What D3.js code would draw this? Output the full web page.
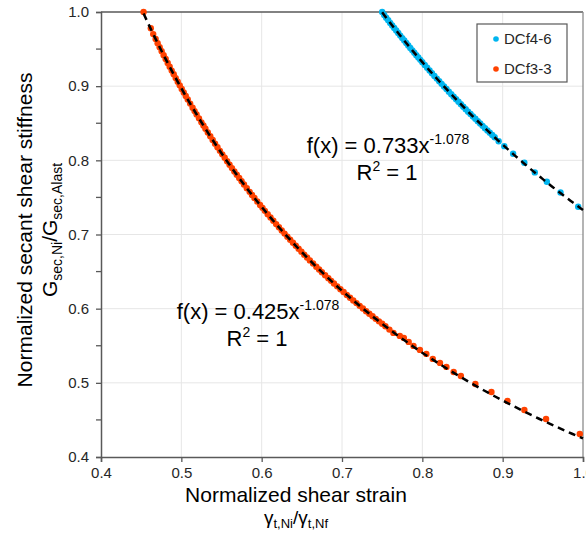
<!DOCTYPE html>
<html>
<head>
<meta charset="utf-8">
<script src="https://cdn.jsdelivr.net/npm/d3@7"></script>
<style>
  html, body { margin: 0; padding: 0; background: #fff; }
  svg { display: block; font-family: "Liberation Sans", Arial, sans-serif; }
</style>
</head>
<body>
<svg id="chart" width="586" height="535"></svg>
<script>
// ---------- data ----------
const xTicks = [0.4, 0.5, 0.6, 0.7, 0.8, 0.9, 1.0];
const yTicks = [0.4, 0.5, 0.6, 0.7, 0.8, 0.9, 1.0];
const yMinorTicks = [0.45, 0.55, 0.65, 0.75, 0.85, 0.95];

const seriesNames = ["DCf4-6", "DCf3-3"];

// DCf3-3 (red-orange)
const redX = [0.453, 0.462, 0.465, 0.468, 0.4705, 0.473, 0.4755, 0.478, 0.4805, 0.483, 0.4855, 0.488, 0.4905, 0.493, 0.4955, 0.498, 0.5005, 0.503, 0.5055, 0.508, 0.511, 0.514, 0.5165, 0.519, 0.522, 0.525, 0.5275, 0.530, 0.533, 0.536, 0.539, 0.542, 0.545, 0.548, 0.551, 0.554, 0.557, 0.560, 0.563, 0.566, 0.569, 0.572, 0.575, 0.578, 0.5815, 0.585, 0.588, 0.591, 0.5945, 0.598, 0.601, 0.604, 0.6075, 0.611, 0.6145, 0.618, 0.6215, 0.625, 0.6285, 0.632, 0.6355, 0.639, 0.6425, 0.646, 0.6495, 0.653, 0.6565, 0.660, 0.664, 0.668, 0.6715, 0.675, 0.679, 0.683, 0.6865, 0.690, 0.694, 0.698, 0.702, 0.706, 0.710, 0.714, 0.718, 0.722, 0.726, 0.730, 0.734, 0.738, 0.742, 0.746, 0.750, 0.754, 0.759, 0.764, 0.772, 0.777, 0.783, 0.789, 0.797, 0.805, 0.813, 0.822, 0.830, 0.839, 0.848, 0.866, 0.886, 0.906, 0.927, 0.954, 0.996];
const redY = [1.000, 0.978, 0.9702, 0.9635, 0.9580, 0.9526, 0.9472, 0.9418, 0.9366, 0.9313, 0.9262, 0.9210, 0.9160, 0.9109, 0.9060, 0.9011, 0.8963, 0.8915, 0.8868, 0.8820, 0.8765, 0.8709, 0.8664, 0.8619, 0.8566, 0.8512, 0.8469, 0.8426, 0.8375, 0.8324, 0.8275, 0.8225, 0.8177, 0.8128, 0.8081, 0.8034, 0.7987, 0.7940, 0.7895, 0.7850, 0.7806, 0.7761, 0.7718, 0.7675, 0.7625, 0.7575, 0.7534, 0.7492, 0.7445, 0.7398, 0.7359, 0.7319, 0.7274, 0.7229, 0.7185, 0.7140, 0.7097, 0.7054, 0.7012, 0.6970, 0.6929, 0.6888, 0.6848, 0.6807, 0.6768, 0.6728, 0.6690, 0.6651, 0.6609, 0.6566, 0.6529, 0.6492, 0.6451, 0.6410, 0.6375, 0.6340, 0.6301, 0.6262, 0.6224, 0.6185, 0.6148, 0.6111, 0.6075, 0.6038, 0.6002, 0.5966, 0.5932, 0.5897, 0.5863, 0.5829, 0.5796, 0.5762, 0.5718, 0.5673, 0.5633, 0.5606, 0.5552, 0.5498, 0.5444, 0.5390, 0.5323, 0.5269, 0.5215, 0.5147, 0.5093, 0.4985, 0.4877, 0.4756, 0.4634, 0.4513, 0.4310];

// DCf4-6 (cyan)
const cyanX = [0.750, 0.7525, 0.755, 0.7575, 0.760, 0.7625, 0.765, 0.7675, 0.770, 0.7725, 0.775, 0.7775, 0.780, 0.7825, 0.785, 0.7875, 0.790, 0.7925, 0.795, 0.7975, 0.800, 0.803, 0.806, 0.809, 0.812, 0.815, 0.818, 0.821, 0.824, 0.827, 0.830, 0.833, 0.836, 0.839, 0.842, 0.845, 0.848, 0.851, 0.854, 0.857, 0.860, 0.863, 0.866, 0.869, 0.872, 0.875, 0.878, 0.881, 0.884, 0.887, 0.890, 0.895, 0.902, 0.913, 0.927, 0.940, 0.955, 0.972, 0.994];
const cyanY = [1.000, 0.9959, 0.9923, 0.9888, 0.9853, 0.9818, 0.9784, 0.9750, 0.9716, 0.9682, 0.9648, 0.9615, 0.9582, 0.9549, 0.9516, 0.9483, 0.9450, 0.9418, 0.9387, 0.9355, 0.9323, 0.9286, 0.9249, 0.9212, 0.9175, 0.9138, 0.9102, 0.9066, 0.9031, 0.8996, 0.8961, 0.8926, 0.8891, 0.8857, 0.8823, 0.8789, 0.8756, 0.8722, 0.8689, 0.8656, 0.8624, 0.8592, 0.8560, 0.8528, 0.8497, 0.8465, 0.8434, 0.8403, 0.8372, 0.8341, 0.8311, 0.8258, 0.8191, 0.8089, 0.7968, 0.7837, 0.7711, 0.7567, 0.7374];

// power-law fits f(x) = a * x^b
const fitRedA = 0.425, fitCyanA = 0.733, fitB = -1.078;
const fitRedRange = [0.453, 1.0];
const fitCyanRange = [0.75, 1.0];

// ---------- layout ----------
const svg = d3.select("#chart");
const L = 101, R = 583, T = 12, B = 457;
const x = d3.scaleLinear().domain([0.4, 1.0]).range([L, R]);
const y = d3.scaleLinear().domain([0.4, 1.0]).range([B, T]);

const cRed = "#ff4200", cCyan = "#00b5ef";

// gridlines
svg.append("g").selectAll("line").data(xTicks.slice(1, -1)).join("line")
  .attr("x1", d => x(d)).attr("x2", d => x(d)).attr("y1", T).attr("y2", B)
  .attr("stroke", "#e6e6e6").attr("stroke-width", 1);
svg.append("g").selectAll("line").data(yTicks.slice(1, -1)).join("line")
  .attr("y1", d => y(d)).attr("y2", d => y(d)).attr("x1", L).attr("x2", R)
  .attr("stroke", "#e6e6e6").attr("stroke-width", 1);

// frame top/right
svg.append("line").attr("x1", L).attr("x2", R).attr("y1", T).attr("y2", T).attr("stroke", "#595959").attr("stroke-width", 1.3);
svg.append("line").attr("x1", R).attr("x2", R).attr("y1", T).attr("y2", B).attr("stroke", "#8c8c8c").attr("stroke-width", 1.3);

// axes
const xAxis = d3.axisBottom(x).tickValues(xTicks).tickFormat(d3.format(".1f")).tickSize(5).tickPadding(5);
const gx = svg.append("g").attr("transform", `translate(0,${B})`).call(xAxis);
gx.select(".domain").attr("stroke", "#595959").attr("stroke-width", 1.5);
gx.selectAll(".tick line").attr("stroke", "#595959").attr("stroke-width", 1.3);
gx.selectAll(".tick text").attr("font-size", 15).attr("fill", "#262626").attr("font-family", "Liberation Sans, Arial, sans-serif");

const yAxis = d3.axisLeft(y).tickValues(yTicks).tickFormat(d3.format(".1f")).tickSize(5).tickPadding(7);
const gy = svg.append("g").attr("transform", `translate(${L},0)`).call(yAxis);
gy.select(".domain").attr("stroke", "#595959").attr("stroke-width", 1.5);
gy.selectAll(".tick line").attr("stroke", "#595959").attr("stroke-width", 1.3);
gy.selectAll(".tick text").attr("font-size", 15).attr("fill", "#262626").attr("font-family", "Liberation Sans, Arial, sans-serif");

// minor y ticks
svg.append("g").selectAll("line").data(yMinorTicks).join("line")
  .attr("x1", L - 5).attr("x2", L).attr("y1", d => y(d)).attr("y2", d => y(d))
  .attr("stroke", "#595959").attr("stroke-width", 1.3);

// clip
svg.append("clipPath").attr("id", "plotclip").append("rect")
  .attr("x", L).attr("y", T - 4).attr("width", R - L + 4).attr("height", B - T + 4);

const plot = svg.append("g").attr("clip-path", "url(#plotclip)");

// points
const redPts = d3.zip(redX, redY);
const cyanPts = d3.zip(cyanX, cyanY);
plot.append("g").selectAll("circle").data(redPts).join("circle")
  .attr("cx", d => x(d[0])).attr("cy", d => y(d[1])).attr("r", 3.2).attr("fill", cRed);
plot.append("g").selectAll("circle").data(cyanPts).join("circle")
  .attr("cx", d => x(d[0])).attr("cy", d => y(d[1])).attr("r", 3.2).attr("fill", cCyan);

// fits
const line = d3.line().x(d => x(d[0])).y(d => y(d[1]));
function fitPts(a, range) {
  const n = 80, out = [];
  for (let i = 0; i <= n; i++) {
    const xv = range[0] + (range[1] - range[0]) * i / n;
    out.push([xv, a * Math.pow(xv, fitB)]);
  }
  return out;
}
plot.append("path").datum(fitPts(fitRedA, fitRedRange)).attr("d", line)
  .attr("fill", "none").attr("stroke", "#000").attr("stroke-width", 2.5).attr("stroke-dasharray", "7,5");
plot.append("path").datum(fitPts(fitCyanA, fitCyanRange)).attr("d", line)
  .attr("fill", "none").attr("stroke", "#000").attr("stroke-width", 2.5).attr("stroke-dasharray", "7,5");

// annotations
function fitLabel(cx, by, coef) {
  const t = svg.append("text").attr("x", cx).attr("y", by).attr("text-anchor", "middle")
    .attr("font-size", 22).attr("fill", "#000");
  t.append("tspan").text(`f(x) = ${coef}x`);
  t.append("tspan").attr("font-size", 14).attr("dy", -9).text(`-1.078`);
  const r = svg.append("text").attr("x", cx - 1).attr("y", by + 27).attr("text-anchor", "middle")
    .attr("font-size", 22).attr("fill", "#000");
  r.append("tspan").text("R");
  r.append("tspan").attr("font-size", 14).attr("dy", -9).text("2");
  r.append("tspan").attr("dy", 9).text(" = 1");
}
fitLabel(388, 153, "0.733");
fitLabel(258, 319, "0.425");

// legend
const lg = svg.append("g");
lg.append("rect").attr("x", 477).attr("y", 24).attr("width", 90).attr("height", 58)
  .attr("fill", "#fff").attr("stroke", "#595959").attr("stroke-width", 1.2);
const legColors = [cCyan, cRed];
seriesNames.forEach((name, i) => {
  const yy = 39 + i * 30;
  lg.append("circle").attr("cx", 496).attr("cy", yy).attr("r", 2.8).attr("fill", legColors[i]);
  lg.append("text").attr("x", 504).attr("y", yy + 5).attr("font-size", 15).attr("fill", "#262626").text(name);
});

// axis titles
svg.append("text").attr("x", 296).attr("y", 502).attr("text-anchor", "middle")
  .attr("font-size", 21).attr("fill", "#000").text("Normalized shear strain");
const xt2 = svg.append("text").attr("x", 296).attr("y", 524).attr("text-anchor", "middle")
  .attr("font-size", 19).attr("fill", "#000");
xt2.append("tspan").text("γ");
xt2.append("tspan").attr("font-size", 13).attr("dy", 4).text("t,Ni");
xt2.append("tspan").attr("dy", -4).text("/γ");
xt2.append("tspan").attr("font-size", 13).attr("dy", 4).text("t,Nf");

svg.append("text").attr("transform", "translate(32,230) rotate(-90)").attr("text-anchor", "middle")
  .attr("font-size", 21).attr("fill", "#000").text("Normalized secant shear stiffness");
const yt2 = svg.append("text").attr("transform", "translate(57,230) rotate(-90)").attr("text-anchor", "middle")
  .attr("font-size", 21).attr("fill", "#000");
yt2.append("tspan").text("G");
yt2.append("tspan").attr("font-size", 14).attr("dy", 5).text("sec,Ni");
yt2.append("tspan").attr("dy", -5).text("/G");
yt2.append("tspan").attr("font-size", 14).attr("dy", 5).text("sec,Alast");
</script>
</body>
</html>
